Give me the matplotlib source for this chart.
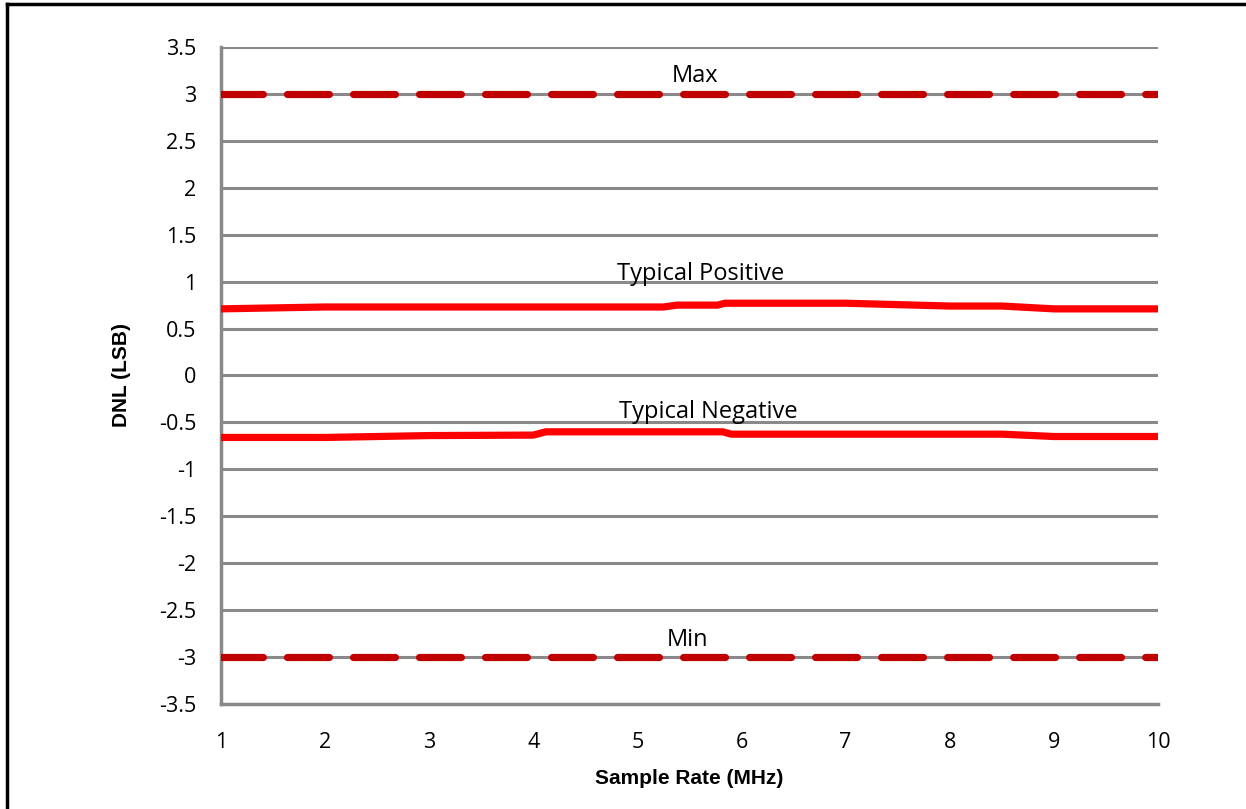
import matplotlib.pyplot as plt
from matplotlib.lines import Line2D

# sample rate (MHz) and DNL (LSB)
limit_x = [1, 10]
max_dnl = [3, 3]
min_dnl = [-3, -3]

pos_x = [1, 2, 5.25, 5.38, 5.77, 5.84, 7.0, 8.0, 8.5, 9.0, 10]
pos_dnl = [0.71, 0.73, 0.73, 0.75, 0.75, 0.77, 0.77, 0.74, 0.74, 0.71, 0.71]

neg_x = [1, 2, 3, 4.0, 4.12, 5.82, 5.9, 8.5, 9.0, 10]
neg_dnl = [-0.66, -0.66, -0.64, -0.635, -0.60, -0.60, -0.625, -0.625, -0.65, -0.65]

yticks = [-3.5, -3, -2.5, -2, -1.5, -1, -0.5, 0, 0.5, 1, 1.5, 2, 2.5, 3, 3.5]
xticks = [1, 2, 3, 4, 5, 6, 7, 8, 9, 10]

txt_font = 'Open Sans'
grid_col = '#898989'
dark_red = '#C00000'
red = '#FF0000'

fig = plt.figure(figsize=(12.46, 8.09), dpi=100)
ax = fig.add_axes([221 / 1246, 1 - 704 / 809, (1158 - 221) / 1246, (704 - 47) / 809])

for y in yticks:
    ax.axhline(y, color=grid_col, lw=2.2, zorder=1)

ax.plot(limit_x, max_dnl, color=dark_red, lw=5.2, dashes=(5.8, 3.34),
        dash_capstyle='round', zorder=3)
ax.plot(limit_x, min_dnl, color=dark_red, lw=5.2, dashes=(5.8, 3.34),
        dash_capstyle='round', zorder=3)
ax.plot(pos_x, pos_dnl, color=red, lw=5.2, solid_capstyle='butt', zorder=3)
ax.plot(neg_x, neg_dnl, color=red, lw=5.2, solid_capstyle='butt', zorder=3)

ax.text(5.55, 3.19, 'Max', ha='center', va='center', fontsize=17, family=txt_font)
ax.text(5.61, 1.08, 'Typical Positive', ha='center', va='center', fontsize=17, family=txt_font)
ax.text(5.68, -0.39, 'Typical Negative', ha='center', va='center', fontsize=17, family=txt_font)
ax.text(5.48, -2.82, 'Min', ha='center', va='center', fontsize=17, family=txt_font)

ax.set_xlim(1, 10)
ax.set_ylim(-3.5, 3.5)
ax.set_xticks(xticks)
ax.set_xticklabels([str(v) for v in xticks])
ax.set_yticks(yticks)
ax.set_yticklabels([('%g' % v) for v in yticks])
ax.tick_params(length=0, labelsize=15.5)
ax.tick_params(axis='y', pad=18)
ax.tick_params(axis='x', pad=20)
for lab in ax.get_xticklabels() + ax.get_yticklabels():
    lab.set_family(txt_font)

for side in ['top', 'right']:
    ax.spines[side].set_visible(False)
for side in ['left', 'bottom']:
    ax.spines[side].set_color(grid_col)
    ax.spines[side].set_linewidth(2.5)
    ax.spines[side].set_zorder(2)

ax.set_ylabel('DNL (LSB)', fontsize=15, fontweight='bold', family='Liberation Sans', labelpad=20)
ax.set_xlabel('Sample Rate (MHz)', fontsize=15, fontweight='bold', family='Liberation Sans', labelpad=12)

# outer frame (top and left edges visible)
fig.add_artist(Line2D([7 / 1246, 1], [1 - 4 / 809, 1 - 4 / 809], color='black', lw=2.5, transform=fig.transFigure))
fig.add_artist(Line2D([7 / 1246, 7 / 1246], [0, 1 - 4 / 809], color='black', lw=2.5, transform=fig.transFigure))

fig.savefig('out.png', dpi=100)
